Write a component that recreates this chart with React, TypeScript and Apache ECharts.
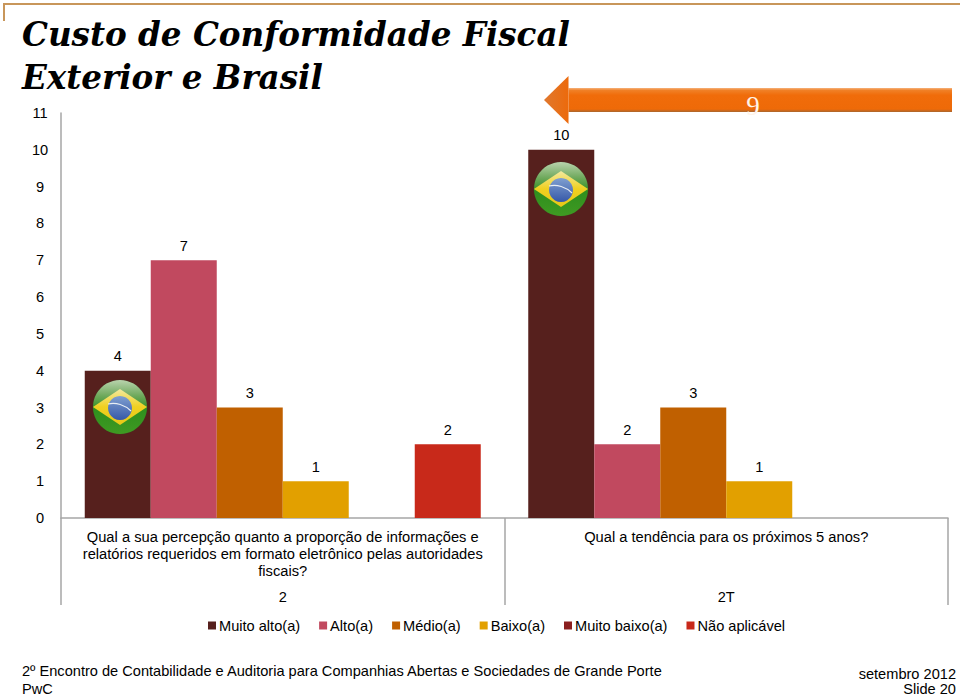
import React, { useEffect, useRef } from "react";
import * as echarts from "echarts";

const categories = [
  "Qual a sua percepção quanto a proporção de informações e\nrelatórios requeridos em formato eletrônico pelas autoridades\nfiscais?",
  "Qual a tendência para os próximos 5 anos?\n\n",
];
const groups = ["2", "2T"];
const muitoAlto = [4, 10];
const alto = [7, 2];
const medio = [3, 3];
const baixo = [1, 1];
const muitoBaixo: (number | null)[] = [null, null];
const naoAplicavel: (number | null)[] = [2, null];
const seriesNames = ["Muito alto(a)", "Alto(a)", "Médio(a)", "Baixo(a)", "Muito baixo(a)", "Não aplicável"];
const seriesColors = ["#56201d", "#c1495f", "#c06000", "#e2a000", "#8b1f1f", "#c8291a"];
const seriesValues = [muitoAlto, alto, medio, baixo, muitoBaixo, naoAplicavel];
const titleText = "Custo de Conformidade Fiscal\nExterior e Brasil";
const arrowLabel = "9";

const SANS = '"Liberation Sans", Arial, sans-serif';
const TOP_Z = 100;

function flag(cx: number, cy: number) {
  const z = TOP_Z;
  return {
    type: "group",
    x: cx,
    y: cy,
    children: [
      { type: "circle", z, shape: { cx: 0, cy: 0, r: 27.5 }, style: { fill: "#3a4a2a", opacity: 0.35 } },
      {
        type: "circle", z: z + 1, shape: { cx: 0, cy: 0, r: 27 },
        style: {
          fill: new echarts.graphic.LinearGradient(0, 0, 0, 1, [
            { offset: 0, color: "#b9d3ad" },
            { offset: 0.3, color: "#6da85a" },
            { offset: 0.55, color: "#2f8f1e" },
            { offset: 1, color: "#3f9a22" },
          ]),
        },
      },
      {
        type: "polygon", z: z + 2,
        shape: { points: [[-27, 0], [0, -18], [27, 0], [0, 18]] },
        style: {
          fill: new echarts.graphic.LinearGradient(0, 0, 0, 1, [
            { offset: 0, color: "#f3e9a0" },
            { offset: 0.5, color: "#f0d020" },
            { offset: 1, color: "#e8c818" },
          ]),
        },
      },
      {
        type: "circle", z: z + 3, shape: { cx: 0, cy: 1, r: 12 },
        style: {
          fill: new echarts.graphic.LinearGradient(0, 0, 0, 1, [
            { offset: 0, color: "#7f9fd0" },
            { offset: 1, color: "#3658a8" },
          ]),
        },
      },
      {
        type: "bezierCurve", z: z + 4,
        shape: { x1: -12, y1: -3, x2: 11, y2: 4, cpx1: -4, cpy1: -5, cpx2: 5, cpy2: -2 },
        style: { stroke: "#e8eef5", lineWidth: 1.2, fill: "none" },
      },
    ],
  };
}

export default function App() {
  const ref = useRef<HTMLDivElement>(null);
  useEffect(() => {
    if (!ref.current) return;
    const chart = echarts.init(ref.current, undefined, { renderer: "svg" });
    chart.setOption({
      animation: false,
      backgroundColor: "#ffffff",
      title: {
        text: titleText,
        left: 17,
        top: 8,
        textStyle: {
          fontFamily: '"DejaVu Serif", serif',
          fontStyle: "italic",
          fontWeight: "bold",
          fontSize: 32.6,
          lineHeight: 43,
          color: "#000000",
        },
      },
      legend: {
        left: 203,
        top: 613,
        icon: "rect",
        itemWidth: 8,
        itemHeight: 8,
        itemGap: 19,
        selectedMode: false,
        data: seriesNames,
        textStyle: { fontFamily: SANS, fontSize: 14.6, color: "#000000", padding: [0, 0, 0, -2] },
      },
      grid: { left: 61, right: 12, top: 113, bottom: 179, containLabel: false },
      xAxis: [
        {
          type: "category",
          data: categories,
          axisLine: { lineStyle: { color: "#a6a6a6", width: 1.5 } },
          axisTick: { show: true, length: 87, lineStyle: { color: "#a6a6a6", width: 1.5 } },
          axisLabel: {
            interval: 0,
            fontFamily: SANS,
            fontSize: 14.7,
            lineHeight: 17,
            color: "#000000",
            margin: 10,
            align: "center",
            verticalAlign: "top",
          },
        },
        {
          type: "category",
          position: "bottom",
          offset: 71,
          data: groups,
          axisLine: { show: false },
          axisTick: { show: false },
          axisLabel: { interval: 0, fontFamily: SANS, fontSize: 14.6, color: "#000000", margin: 0 },
        },
      ],
      yAxis: {
        type: "value",
        min: 0,
        max: 11,
        interval: 1,
        splitLine: { show: false },
        axisTick: { show: false },
        axisLine: { show: true, lineStyle: { color: "#a6a6a6", width: 1.5 } },
        axisLabel: {
          fontFamily: SANS,
          fontSize: 14.6,
          color: "#000000",
          align: "center",
          margin: 21,
        },
      },
      series: seriesNames.map((name, i) => ({
        name,
        type: "bar",
        data: seriesValues[i],
        barWidth: 66,
        barGap: 0,
        itemStyle: { color: seriesColors[i] },
        label: {
          show: true,
          position: "top",
          distance: 7,
          fontFamily: SANS,
          fontSize: 14.6,
          color: "#000000",
        },
      })),
      graphic: [
        { type: "line", shape: { x1: 4, y1: 4, x2: 960, y2: 4 }, style: { stroke: "#c8965a", lineWidth: 2 } },
        { type: "line", shape: { x1: 4, y1: 3, x2: 4, y2: 21 }, style: { stroke: "#c8965a", lineWidth: 2 } },
        {
          type: "polygon",
          z: TOP_Z,
          shape: { points: [[568.5, 88], [952, 88], [952, 112], [568.5, 112]] },
          style: {
            fill: new echarts.graphic.LinearGradient(0, 0, 0, 1, [
              { offset: 0, color: "#f6b27c" },
              { offset: 0.1, color: "#f08026" },
              { offset: 0.3, color: "#f06c0a" },
              { offset: 0.88, color: "#ee6a08" },
              { offset: 1, color: "#a9662e" },
            ]),
          },
        },
        {
          type: "polygon",
          z: TOP_Z,
          shape: { points: [[544, 100], [568.5, 76], [568.5, 124]] },
          style: {
            fill: new echarts.graphic.LinearGradient(0, 0, 1, 0, [
              { offset: 0, color: "#e0782e" },
              { offset: 1, color: "#ec6a0c" },
            ]),
          },
        },
        {
          type: "text",
          z: TOP_Z + 1,
          x: 753,
          y: 106,
          style: {
            text: arrowLabel,
            fontFamily: '"Liberation Serif", serif',
            fontSize: 27,
            fill: "#fff3e8",
            align: "center",
            verticalAlign: "middle",
          },
        },
        flag(120, 407),
        flag(561, 189),
        { type: "text", x: 22, y: 671, style: { text: "2º Encontro de Contabilidade e Auditoria para Companhias Abertas e Sociedades de Grande Porte", fontFamily: SANS, fontSize: 14.6, fill: "#000000", verticalAlign: "middle" } },
        { type: "text", x: 22, y: 689, style: { text: "PwC", fontFamily: SANS, fontSize: 14.6, fill: "#000000", verticalAlign: "middle" } },
        { type: "text", x: 956, y: 674, style: { text: "setembro 2012", fontFamily: SANS, fontSize: 14.6, fill: "#000000", align: "right", verticalAlign: "middle" } },
        { type: "text", x: 956, y: 689, style: { text: "Slide 20", fontFamily: SANS, fontSize: 14.6, fill: "#000000", align: "right", verticalAlign: "middle" } },
      ],
    });
    return () => chart.dispose();
  }, []);
  return <div ref={ref} style={{ position: "fixed", left: 0, top: 0, width: 960, height: 697 }} />;
}
